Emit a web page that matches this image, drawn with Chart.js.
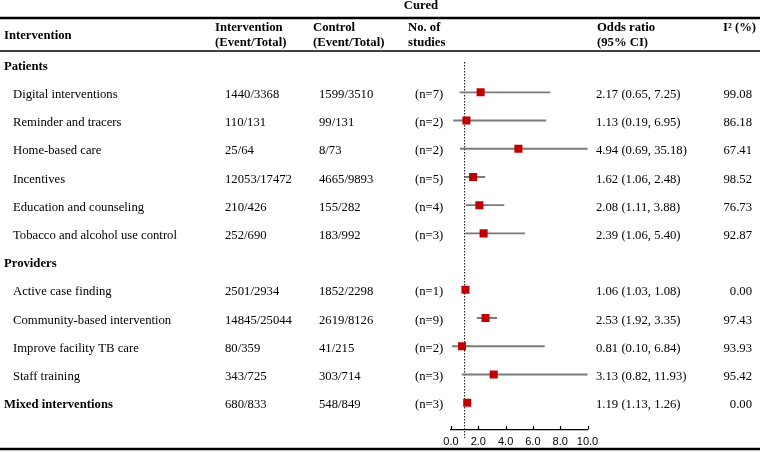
<!DOCTYPE html>
<html>
<head>
<meta charset="utf-8">
<title>Cured - forest plot</title>
<script src="https://cdn.jsdelivr.net/npm/chart.js@4/dist/chart.umd.min.js"></script>
<style>
  html, body { margin: 0; padding: 0; background: #fff; }
  #wrap { width: 760px; height: 452px; }
</style>
</head>
<body>
<div id="wrap"><canvas id="forestChart" width="760" height="452"></canvas></div>
<script>
// Rows of the table, top to bottom (group headings have no values)
const rowLabels = [
  "Patients",
  "Digital interventions",
  "Reminder and tracers",
  "Home-based care",
  "Incentives",
  "Education and counseling",
  "Tobacco and alcohol use control",
  "Providers",
  "Active case finding",
  "Community-based intervention",
  "Improve facility TB care",
  "Staff training",
  "Mixed interventions"
];
const boldRows = ["Patients", "Providers", "Mixed interventions"];

const interventionEvents = [null, "1440/3368", "110/131", "25/64", "12053/17472", "210/426", "252/690",
  null, "2501/2934", "14845/25044", "80/359", "343/725", "680/833"];
const controlEvents = [null, "1599/3510", "99/131", "8/73", "4665/9893", "155/282", "183/992",
  null, "1852/2298", "2619/8126", "41/215", "303/714", "548/849"];
const studyCounts = [null, 7, 2, 2, 5, 4, 3, null, 1, 9, 2, 3, 3];
const oddsRatio = [null, 2.17, 1.13, 4.94, 1.62, 2.08, 2.39, null, 1.06, 2.53, 0.81, 3.13, 1.19];
const ciLower = [null, 0.65, 0.19, 0.69, 1.06, 1.11, 1.06, null, 1.03, 1.92, 0.10, 0.82, 1.13];
const ciUpper = [null, 7.25, 6.95, 35.18, 2.48, 3.88, 5.40, null, 1.08, 3.35, 6.84, 11.93, 1.26];
const iSquared = [null, 99.08, 86.18, 67.41, 98.52, 76.73, 92.87, null, 0.00, 97.43, 93.93, 95.42, 0.00];

const xTicksStep = 2;
const nullLine = 1;

const SERIF = '"Liberation Serif", "Times New Roman", serif';
function serif(size, bold) {
  return (bold ? "bold " : "") + size + "px " + SERIF;
}

// points and CI segments built from the arrays above
const pointData = [];
const ciData = [];
rowLabels.forEach((label, i) => {
  if (oddsRatio[i] === null) return;
  pointData.push({ x: oddsRatio[i], y: i });
  ciData.push({ x: [ciLower[i], ciUpper[i]], y: i });
});

// draws the table text, rules and the dotted line at OR = 1
const tablePlugin = {
  id: "forestTable",
  beforeDatasetsDraw(chart) {
    const ctx = chart.ctx;
    const x = chart.scales.x.getPixelForValue(nullLine);
    ctx.save();
    ctx.strokeStyle = "#000";
    ctx.lineWidth = 1;
    ctx.setLineDash([1.5, 1.5]);
    ctx.beginPath();
    ctx.moveTo(x, 62);
    ctx.lineTo(x, 438);
    ctx.stroke();
    ctx.restore();
  },
  afterDraw(chart) {
    const ctx = chart.ctx;
    const xScale = chart.scales.x;
    const yScale = chart.scales.y;
    ctx.save();

    // upward tick marks on the x axis
    ctx.strokeStyle = "#000";
    ctx.lineWidth = 1.2;
    xScale.ticks.forEach(t => {
      const px = Math.round(xScale.getPixelForValue(t.value)) + 0.5;
      ctx.beginPath();
      ctx.moveTo(px, chart.chartArea.bottom);
      ctx.lineTo(px, chart.chartArea.bottom - 3.5);
      ctx.stroke();
    });

    // horizontal rules
    function rule(y, w) {
      ctx.lineWidth = w;
      ctx.beginPath();
      ctx.moveTo(0, y);
      ctx.lineTo(760, y);
      ctx.stroke();
    }
    rule(18, 2.5);
    rule(51, 1.6);
    rule(449, 2.5);

    ctx.fillStyle = "#000";
    ctx.textBaseline = "middle";

    // header
    ctx.font = serif(12.7, true);
    ctx.textAlign = "center";
    ctx.fillText("Cured", 421, 6);
    ctx.textAlign = "left";
    ctx.fillText("Intervention", 4, 36);
    ctx.fillText("Intervention", 215, 28);
    ctx.fillText("(Event/Total)", 215, 43);
    ctx.fillText("Control", 313, 28);
    ctx.fillText("(Event/Total)", 313, 43);
    ctx.fillText("No. of", 408, 28);
    ctx.fillText("studies", 408, 43);
    ctx.fillText("Odds ratio", 597, 28);
    ctx.fillText("(95% CI)", 597, 43);
    ctx.fillText("I² (%)", 723, 28);

    // rows (text sits a little below the square centres, as in the original)
    rowLabels.forEach((label, i) => {
      const y = yScale.getPixelForValue(i) + 2.3;
      const bold = boldRows.includes(label);
      ctx.font = serif(12.7, bold);
      ctx.textAlign = "left";
      ctx.fillText(label, bold ? 4 : 13, y);
      if (oddsRatio[i] === null) return;
      ctx.font = serif(12.7, false);
      ctx.fillText(interventionEvents[i], 225, y);
      ctx.fillText(controlEvents[i], 319, y);
      ctx.fillText("(n=" + studyCounts[i] + ")", 415, y);
      ctx.fillText(oddsRatio[i].toFixed(2) + " (" + ciLower[i].toFixed(2) + ", " + ciUpper[i].toFixed(2) + ")", 596, y);
      ctx.textAlign = "right";
      ctx.fillText(iSquared[i].toFixed(2), 752, y);
    });
    ctx.restore();
  }
};

const ctx = document.getElementById("forestChart").getContext("2d");

const forestChart = new Chart(ctx, {
  type: "scatter",
  data: {
    datasets: [
      {
        label: "Odds ratio",
        data: pointData,
        pointStyle: "rect",
        pointRadius: 5.7,
        backgroundColor: "#c00000",
        borderColor: "#c00000",
        borderWidth: 0,
        order: 1
      },
      {
        type: "bar",
        label: "95% CI",
        indexAxis: "y",
        data: ciData,
        backgroundColor: "#7a7a7a",
        borderWidth: 0,
        barThickness: 1.2,
        order: 2
      }
    ]
  },
  options: {
    responsive: false,
    animation: false,
    events: [],
    layout: { padding: { left: 451, right: 172.5, top: 50, bottom: 0 } },
    plugins: {
      legend: { display: false },
      tooltip: { enabled: false }
    },
    scales: {
      x: {
        type: "linear",
        position: "bottom",
        min: 0,
        max: 10,
        offset: false,
        grid: { display: false, drawTicks: false },
        border: { display: true, color: "#000", width: 1.2 },
        ticks: {
          stepSize: xTicksStep,
          padding: 6,
          color: "#000",
          maxRotation: 0,
          autoSkip: false,
          font: { family: '"Liberation Sans", Arial, sans-serif', size: 11 },
          callback: v => v.toFixed(1)
        },
        afterFit: scale => { scale.height = 22.5; }
      },
      y: {
        type: "linear",
        display: false,
        reverse: true,
        min: -0.5,
        max: 12.95,
        offset: false
      }
    }
  },
  plugins: [tablePlugin]
});
</script>
</body>
</html>
